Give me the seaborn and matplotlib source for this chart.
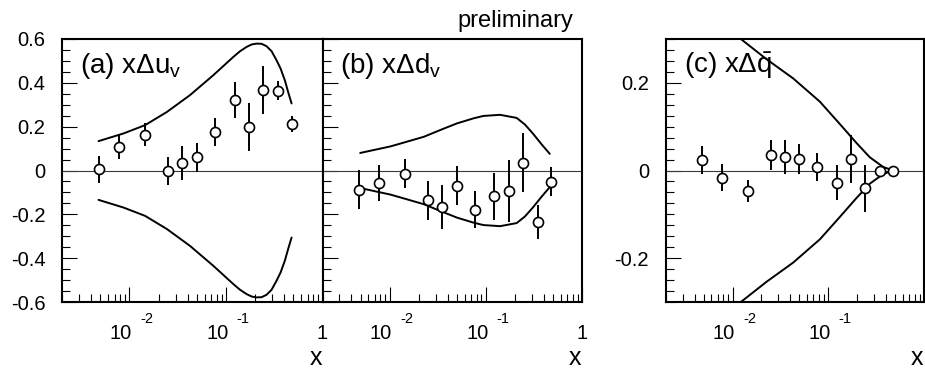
import numpy as np
import pandas as pd
import matplotlib
matplotlib.use("Agg")
import matplotlib.pyplot as plt
import seaborn as sns
from matplotlib.ticker import FixedLocator, NullFormatter, MultipleLocator, LogLocator

# ---------------- data ----------------
x_bins = [0.0048, 0.0078, 0.0145, 0.025, 0.035, 0.050, 0.077, 0.123, 0.174, 0.242, 0.345, 0.48]

uv_y = [0.005, 0.108, 0.164, -0.003, 0.035, 0.060, 0.175, 0.321, 0.200, 0.369, 0.364, 0.212]
uv_err = [0.060, 0.057, 0.053, 0.065, 0.078, 0.067, 0.065, 0.083, 0.110, 0.110, 0.043, 0.036]

dv_y = [-0.087, -0.056, -0.014, -0.136, -0.166, -0.069, -0.178, -0.117, -0.093, 0.035, -0.234, -0.052]
dv_err = [0.090, 0.081, 0.065, 0.088, 0.100, 0.088, 0.083, 0.107, 0.140, 0.135, 0.078, 0.066]

qb_y = [0.0235, -0.016, -0.046, 0.035, 0.030, 0.026, 0.0083, -0.028, 0.026, -0.041, 0.0, -0.001]
qb_err = [0.032, 0.030, 0.025, 0.034, 0.039, 0.034, 0.032, 0.040, 0.055, 0.054, 0.003, 0.003]

# bound curves (drawn as +bound and -bound)
uv_bx = [0.00478, 0.00867, 0.01452, 0.0244, 0.0424, 0.074, 0.119, 0.1397, 0.1636, 0.1845,
         0.2075, 0.234, 0.2634, 0.297, 0.334, 0.368, 0.407, 0.44, 0.478]
uv_b = [0.134, 0.169, 0.207, 0.267, 0.344, 0.435, 0.518, 0.544, 0.564, 0.575,
        0.579, 0.578, 0.567, 0.544, 0.503, 0.465, 0.412, 0.359, 0.306]

dv_bx = [0.00493, 0.0102, 0.01525, 0.0227, 0.0337, 0.0501, 0.0745, 0.0944, 0.1406, 0.209,
         0.2547, 0.311, 0.379, 0.462]
dv_b = [0.080, 0.110, 0.132, 0.154, 0.185, 0.215, 0.238, 0.249, 0.254, 0.240,
        0.210, 0.167, 0.120, 0.076]

qb_bx = [0.0122, 0.0226, 0.043, 0.0817, 0.132, 0.1975, 0.272, 0.375, 0.477]
qb_b = [0.300, 0.254, 0.210, 0.157, 0.106, 0.0625, 0.030, 0.008, 0.0]

panel_labels = [r"(a) x$\mathregular{\Delta u_{v}}$", r"(b) x$\mathregular{\Delta d_{v}}$",
                r"(c) x$\mathregular{\Delta\bar{q}}$"]
ab_yticks = [-0.6, -0.4, -0.2, 0.0, 0.2, 0.4, 0.6]
ab_yticklabels = ["-0.6", "-0.4", "-0.2", "0", "0.2", "0.4", "0.6"]
c_yticks = [-0.2, 0.0, 0.2]
c_yticklabels = ["-0.2", "0", "0.2"]

# ---------------- style ----------------
sns.set_theme(style="white")
plt.rcParams["font.family"] = ["Liberation Sans", "DejaVu Sans"]
plt.rcParams["mathtext.fontset"] = "custom"
plt.rcParams["mathtext.rm"] = "Liberation Sans"
plt.rcParams["mathtext.it"] = "Liberation Sans:italic"
plt.rcParams["mathtext.bf"] = "Liberation Sans:bold"
plt.rcParams["axes.unicode_minus"] = False

W, H = 925, 371
fig = plt.figure(figsize=(W / 100, H / 100), dpi=100)
fig.patch.set_facecolor("white")
top_px, bot_px = 39, 302
b = 1 - bot_px / H
h = (bot_px - top_px) / H
ax_a = fig.add_axes([62 / W, b, 260.5 / W, h])
ax_b = fig.add_axes([322.5 / W, b, 259.5 / W, h])
ax_c = fig.add_axes([665.7 / W, b, 258.3 / W, h])

TICK_FS = 14.5
EXP_FS = 10.5


def draw_panel(ax, ys, errs, bx, bnd, ylim, yticks, yticklabels, yminor, label,
               show_ylabels, xlabel_vals):
    ax.set_facecolor("white")
    ax.set_xscale("log")
    ax.set_xlim(0.002, 1.0)
    ax.set_ylim(*ylim)
    ax.axhline(0, color="#3a3a3a", lw=0.8, zorder=1)

    cdf = pd.DataFrame({"x": bx, "up": bnd, "lo": [-v for v in bnd]})
    sns.lineplot(data=cdf, x="x", y="up", ax=ax, color="black", lw=1.4,
                 sort=False, estimator=None, zorder=2)
    sns.lineplot(data=cdf, x="x", y="lo", ax=ax, color="black", lw=1.4,
                 sort=False, estimator=None, zorder=2)

    pdf = pd.DataFrame({"x": x_bins, "y": ys, "e": errs})
    ax.vlines(pdf["x"], pdf["y"] - pdf["e"], pdf["y"] + pdf["e"], color="black",
              lw=1.4, zorder=3)
    sns.scatterplot(data=pdf, x="x", y="y", ax=ax, marker="o", s=52, color="white",
                    edgecolor="black", linewidth=1.2, zorder=4, legend=False)
    ax.set_xlabel("")
    ax.set_ylabel("")

    for sp in ax.spines.values():
        sp.set_color("black")
        sp.set_linewidth(1.5)
        sp.set_zorder(5)

    ax.xaxis.set_major_locator(FixedLocator([0.01, 0.1, 1.0]))
    ax.xaxis.set_minor_locator(LogLocator(base=10, subs=np.arange(2, 10)))
    ax.xaxis.set_major_formatter(NullFormatter())
    ax.xaxis.set_minor_formatter(NullFormatter())
    ax.set_yticks(yticks)
    ax.set_yticklabels(yticklabels if show_ylabels else [])
    ax.yaxis.set_minor_locator(MultipleLocator(yminor))
    ax.set_ylim(*ylim)
    ax.tick_params(axis="both", which="both", direction="in", bottom=True, left=True,
                   top=False, right=False, color="black", width=0.8,
                   labelsize=TICK_FS, labelcolor="black")
    ax.tick_params(axis="both", which="major", length=11)
    ax.tick_params(axis="both", which="minor", length=5.5)
    ax.tick_params(axis="y", which="major", pad=12)

    tr = ax.get_xaxis_transform()
    for v, kind in xlabel_vals:
        if kind == "1":
            ax.annotate("1", xy=(v, 0), xycoords=tr, xytext=(0, -37), textcoords="offset pixels",
                        ha="center", va="baseline", fontsize=TICK_FS, color="black")
        else:
            ax.annotate("10", xy=(v, 0), xycoords=tr, xytext=(2.5, -37), textcoords="offset pixels",
                        ha="right", va="baseline", fontsize=TICK_FS, color="black")
            ax.annotate(kind, xy=(v, 0), xycoords=tr, xytext=(10.5, -21), textcoords="offset pixels",
                        ha="left", va="baseline", fontsize=EXP_FS, color="black")

    ax.annotate(label, xy=(0, 1), xycoords="axes fraction", xytext=(18, -34),
                textcoords="offset pixels", ha="left", va="baseline", fontsize=20,
                color="black", zorder=6)
    ax.annotate("x", xy=(1, 0), xycoords="axes fraction", xytext=(-0.5, -63),
                textcoords="offset pixels", ha="right", va="baseline", fontsize=18,
                color="black", annotation_clip=False)


draw_panel(ax_a, uv_y, uv_err, uv_bx, uv_b, (-0.6, 0.6), ab_yticks, ab_yticklabels, 0.05,
           panel_labels[0], True, [(0.01, "-2"), (0.1, "-1"), (1.0, "1")])
draw_panel(ax_b, dv_y, dv_err, dv_bx, dv_b, (-0.6, 0.6), ab_yticks, ab_yticklabels, 0.05,
           panel_labels[1], False, [(0.01, "-2"), (0.1, "-1"), (1.0, "1")])
draw_panel(ax_c, qb_y, qb_err, qb_bx, qb_b, (-0.3, 0.3), c_yticks, c_yticklabels, 0.025,
           panel_labels[2], True, [(0.01, "-2"), (0.1, "-1")])

fig.text(573 / W, 1 - 27 / H, "preliminary", ha="right", va="baseline", fontsize=17,
         color="black")

fig.savefig("out.png", dpi=100, facecolor="white")
